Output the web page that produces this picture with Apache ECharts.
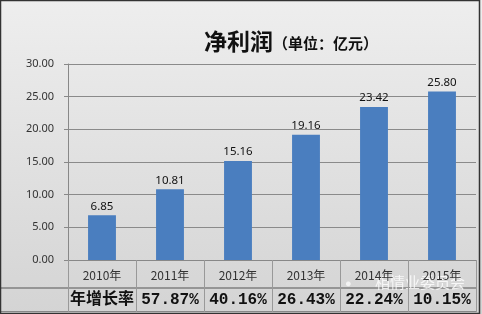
<!DOCTYPE html>
<html><head><meta charset="utf-8">
<script src="https://cdn.jsdelivr.net/npm/echarts@6/dist/echarts.min.js"></script>
<style>html,body{margin:0;padding:0;}#c{width:482px;height:314px;}</style>
</head><body><div id="c"></div>
<script>
const years = ['2010年','2011年','2012年','2013年','2014年','2015年'];
const profit = [6.85, 10.81, 15.16, 19.16, 23.42, 25.80];
const growthRow = ['年增长率','57.87%','40.16%','26.43%','22.24%','10.15%'];
const yTicks = [0, 5, 10, 15, 20, 25, 30];

const chart = echarts.init(document.getElementById('c'));
chart.setOption({
  animation: false,
  backgroundColor: {type:'linear', x:0, y:0, x2:0, y2:1, colorStops:[{offset:0,color:'#eeeeee'},{offset:1,color:'#d4d4d4'}]},
  title: {
    left: 199, top: 25,
    text: '{a|净利润}{b|（单位：亿元）}',
    textStyle: {
      rich: {
        a: {fontFamily:'Noto Sans CJK SC', fontSize:23, fontWeight:'bold', color:'#111'},
        b: {fontFamily:'Noto Sans CJK SC', fontSize:15, fontWeight:'bold', color:'#111', padding:[4,0,0,0]}
      }
    }
  },
  grid: {left:68, right:6, top:64, bottom:54, containLabel:false},
  xAxis: [{
    type:'category', data: years, position:'bottom',
    axisLine:{lineStyle:{color:'#888', width:1}},
    axisTick:{show:true, length:52, lineStyle:{color:'#999'}},
    axisLabel:{interval:0, fontFamily:'Noto Sans CJK SC', fontSize:12, color:'#333', margin:9}
  },{
    type:'category', data: growthRow, position:'bottom',
    axisLine:{show:false}, axisTick:{show:false},
    axisLabel:{interval:0, hideOverlap:false, fontFamily:'Liberation Mono, Noto Sans CJK SC', fontSize:16, fontWeight:'bold', color:'#111', margin:32}
  }],
  yAxis: {
    type:'value', min: yTicks[0], max: yTicks[yTicks.length-1], interval: 5,
    axisLine:{show:true, lineStyle:{color:'#888'}},
    axisTick:{show:true, length:4, lineStyle:{color:'#888'}},
    splitLine:{lineStyle:{color:'#8a8a8a', width:1}},
    axisLabel:{fontFamily:'Noto Sans', fontSize:11, color:'#333', margin:14, formatter:v=>v.toFixed(2)}
  },
  series: [{
    type:'bar', data: profit, barWidth:'41%',
    itemStyle:{color:'#4a7ebf'},
    label:{show:true, position:'top', distance:3, fontFamily:'Noto Sans', fontSize:11.5, color:'#111', formatter:p=>p.value.toFixed(2)}
  },{
    type:'bar', xAxisIndex:1, data: growthRow.map(()=>null), silent:true
  }],
  graphic: [
    {type:'line', shape:{x1:1, y1:288, x2:476, y2:288}, style:{stroke:'#555', lineWidth:1}},
    {type:'line', shape:{x1:1, y1:311.5, x2:476, y2:311.5}, style:{stroke:'#888', lineWidth:1}},
    {type:'text', left:345, top:278, style:{text:'●', fill:'rgba(255,255,255,0.7)', fontSize:11}},
    {type:'text', left:375, top:275, style:{text:'相情业委员会', fill:'rgba(255,255,255,0.8)', fontFamily:'Noto Sans CJK SC', fontSize:15}},
    {type:'rect', shape:{x:0.5, y:0.5, width:479, height:313}, style:{fill:'none', stroke:'#333', lineWidth:1.5}}
  ]
});
</script></body></html>
